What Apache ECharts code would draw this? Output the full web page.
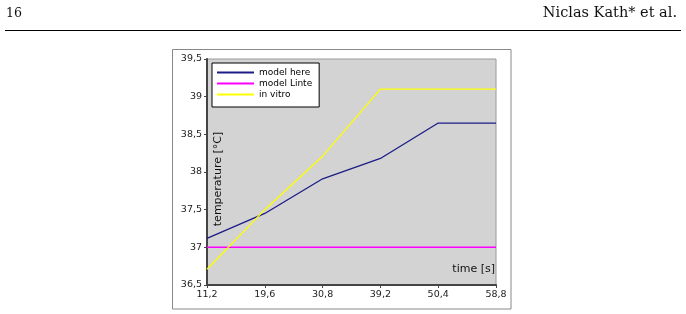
<!DOCTYPE html>
<html>
<head>
<meta charset="utf-8">
<script src="https://cdn.jsdelivr.net/npm/echarts@6/dist/echarts.min.js"></script>
<style>
  html, body { margin: 0; padding: 0; background: #fff; }
  #chart { width: 686px; height: 314px; }
</style>
</head>
<body>
<div id="chart"></div>
<script>
// x categories (time in s), shown with decimal comma
var categories = ['11,2', '19,6', '30,8', '39,2', '50,4', '58,8'];
// series values (°C)
var modelHere = [37.12, 37.45, 37.91, 38.18, 38.65, 38.65];
var modelLinte = [37.0, 37.0, 37.0, 37.0, 37.0, 37.0];
var inVitro = [36.71, 37.5, 38.21, 39.1, 39.1, 39.1];
var seriesNames = ['model here', 'model Linte', 'in vitro'];

var chart = echarts.init(document.getElementById('chart'));

function lineSeries(name, data, color, width) {
    return {
        name: name,
        type: 'line',
        data: data,
        symbol: 'none',
        showSymbol: false,
        lineStyle: { color: color, width: width },
        itemStyle: { color: color }
    };
}

chart.setOption({
    animation: false,
    textStyle: { fontFamily: 'DejaVu Sans' },
    grid: {
        left: 207, top: 59, right: 190, bottom: 29,
        show: true,
        backgroundColor: '#d3d3d3',
        borderColor: '#9a9a9a',
        borderWidth: 1
    },
    legend: {
        orient: 'vertical',
        left: 212, top: 63,
        data: seriesNames,
        backgroundColor: '#fff',
        borderColor: '#000',
        borderWidth: 1,
        borderRadius: 0,
        padding: [5, 7, 8, 4],
        itemGap: 2,
        itemWidth: 37,
        itemHeight: 9,
        itemStyle: { opacity: 0 },
        textStyle: { fontSize: 9, color: '#000' }
    },
    xAxis: {
        type: 'category',
        data: categories,
        boundaryGap: false,
        axisLine: { lineStyle: { color: '#444', width: 2 } },
        axisTick: { length: 3, lineStyle: { color: '#444' } },
        axisLabel: { fontSize: 9.5, color: '#222', margin: 5 },
        splitLine: { show: false }
    },
    yAxis: {
        type: 'value',
        min: 36.5, max: 39.5, interval: 0.5,
        axisLine: { show: true, lineStyle: { color: '#444', width: 2 } },
        axisTick: { show: true, length: 3, lineStyle: { color: '#444' } },
        axisLabel: {
            fontSize: 9.5, color: '#222', margin: 5,
            formatter: function (v) { return String(v).replace('.', ','); }
        },
        splitLine: { show: false }
    },
    series: [
        lineSeries(seriesNames[0], modelHere, '#1c1c86', 1.3),
        lineSeries(seriesNames[1], modelLinte, '#ff00ff', 1.5),
        lineSeries(seriesNames[2], inVitro, '#ffff00', 1.3)
    ],
    graphic: [
        // page header
        { type: 'text', left: 6, top: 7, style: { text: '16', font: '12.5px "DejaVu Serif"', fill: '#111' } },
        { type: 'text', right: 9, top: 6, style: { text: 'Niclas Kath* et al.', font: '14.5px "DejaVu Serif"', fill: '#111' } },
        { type: 'line', shape: { x1: 5, y1: 30.5, x2: 681, y2: 30.5 }, style: { stroke: '#000', lineWidth: 1 } },
        // figure frame
        { type: 'rect', shape: { x: 172.5, y: 49.5, width: 338.5, height: 259.5 }, style: { fill: 'none', stroke: '#888', lineWidth: 1 }, z: -1 },
        // axis titles
        { type: 'text', x: 218, y: 179, rotation: Math.PI / 2, style: { text: 'temperature [°C]', font: '11px "DejaVu Sans"', fill: '#111', align: 'center', verticalAlign: 'middle' }, z: 10 },
        { type: 'text', x: 495, y: 269, style: { text: 'time [s]', font: '11px "DejaVu Sans"', fill: '#111', align: 'right', verticalAlign: 'middle' }, z: 10 }
    ]
});
</script>
</body>
</html>
